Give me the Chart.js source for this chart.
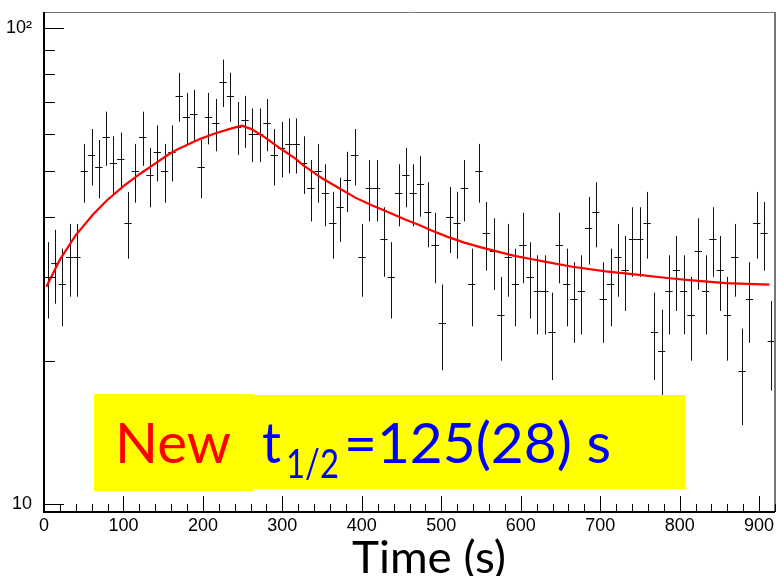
<!DOCTYPE html>
<html>
<head>
<meta charset="utf-8">
<script src="https://cdn.jsdelivr.net/npm/chart.js@4.4.0/dist/chart.umd.min.js"></script>
<style>
    html, body { margin: 0; padding: 0; background: #fff; }
    canvas { display: block; }
</style>
</head>
<body>
<canvas id="Chart" width="779" height="576"></canvas>
<script>
// decay histogram, 100 bins of 9.2 s
const binStart = 0;
const binWidth = 9.2;
const counts = [
    30, 32, 29, 33, 33, 50, 54, 51, 59, 52,
    53, 39, 50, 59, 49, 55, 50, 55, 72, 65,
    66, 51, 65, 63, 77, 72, 62, 64, 60, 60,
    63, 54, 56, 57, 57, 52, 46, 50, 45, 39,
    42, 48, 54, 33, 46, 46, 36, 30, 45, 49,
    45, 47, 41, 35, 24, 40, 39, 46, 29, 50,
    37, 34, 25, 33, 29, 35, 30, 28, 28, 23,
    35, 29, 27, 28, 38, 41, 27, 29, 33, 31,
    36, 36, 39, 23, 21, 28, 31, 28, 25, 34,
    28, 36, 31, 25, 33, 19, 27, 39, 37, 22
];

// fitted growth + decay curve
const fitTimes = [3, 20, 40, 62, 79, 100, 121, 137, 158, 169, 196, 215, 236, 249, 261, 278, 299, 316, 326, 351,
    372, 393, 414, 435, 456, 473, 487, 508, 529, 550, 571, 592, 613, 630, 665, 707, 749, 787, 816, 858, 913];
const fitValues = [28.6, 32.6, 36.7, 40.6, 43.4, 46.5, 49.4, 51.5, 54.4, 55.7, 58.4, 60.0, 61.5, 62.3, 61.3, 58.9, 55.6, 53.2, 51.5, 48.2,
    46.0, 43.9, 42.3, 40.9, 39.5, 38.5, 37.6, 36.4, 35.4, 34.6, 33.9, 33.2, 32.7, 32.3, 31.5, 30.8, 30.3, 29.8, 29.5, 29.1, 28.9];

const xTickLabels = [0, 100, 200, 300, 400, 500, 600, 700, 800, 900];
const xMinorStep = 20;
const yTickLabels = [10, 100];
const yMinorTicks = [20, 30, 40, 50, 60, 70, 80, 90];

let myChart = null;

// stretch or squeeze a run of text so it spans a given width
function drawText(ctx, text, x, baseline, width, font, color) {
    ctx.save();
    ctx.font = font;
    ctx.fillStyle = color;
    ctx.textBaseline = 'alphabetic';
    let w = ctx.measureText(text).width;
    ctx.translate(x, baseline);
    ctx.scale(width / w, 1);
    ctx.fillText(text, 0, 0);
    ctx.restore();
}

const whiteBackground = {
    id: 'whiteBackground',
    beforeDraw(chart) {
        let ctx = chart.ctx;
        ctx.save();
        ctx.fillStyle = '#fff';
        ctx.fillRect(0, 0, chart.width, chart.height);
        ctx.restore();
    }
};

// crosses: bin width horizontally, sqrt(N) vertically
const errorBars = {
    id: 'errorBars',
    beforeDatasetsDraw(chart) {
        let ctx = chart.ctx;
        let xs = chart.scales.x;
        let ys = chart.scales.y;
        ctx.save();
        ctx.strokeStyle = '#111';
        ctx.lineWidth = 1;
        ctx.beginPath();
        for (let i = 0; i < counts.length; i++) {
            let t = binStart + (i + 0.5) * binWidth;
            let err = Math.sqrt(counts[i]);
            let px = Math.round(xs.getPixelForValue(t)) + 0.5;
            let py = Math.round(ys.getPixelForValue(counts[i])) + 0.5;
            ctx.moveTo(xs.getPixelForValue(t - binWidth / 2), py);
            ctx.lineTo(xs.getPixelForValue(t + binWidth / 2), py);
            ctx.moveTo(px, ys.getPixelForValue(counts[i] + err));
            ctx.lineTo(px, ys.getPixelForValue(counts[i] - err));
        }
        ctx.stroke();
        ctx.restore();
    }
};

// frame, inward ticks, axis title and the half-life box
const frameAndText = {
    id: 'frameAndText',
    afterDraw(chart) {
        let ctx = chart.ctx;
        let a = chart.chartArea;
        let xs = chart.scales.x;
        let ys = chart.scales.y;
        ctx.save();

        ctx.strokeStyle = '#777';
        ctx.lineWidth = 1;
        ctx.beginPath();
        ctx.moveTo(a.left, a.top + 0.5);
        ctx.lineTo(a.right, a.top + 0.5);
        ctx.stroke();
        ctx.lineWidth = 2;
        ctx.beginPath();
        ctx.moveTo(a.right, a.top);
        ctx.lineTo(a.right, a.bottom);
        ctx.stroke();

        ctx.strokeStyle = '#000';
        ctx.lineWidth = 2;
        ctx.beginPath();
        ctx.moveTo(a.left, a.top);
        ctx.lineTo(a.left, a.bottom + 1);
        ctx.moveTo(a.left - 1, a.bottom);
        ctx.lineTo(a.right, a.bottom);
        ctx.stroke();

        ctx.lineWidth = 1;
        ctx.beginPath();
        for (let v = xs.min; v <= xs.max; v += xMinorStep) {
            let px = Math.round(xs.getPixelForValue(v)) + 0.5;
            let len = xTickLabels.includes(v) ? 16 : 8;
            ctx.moveTo(px, a.bottom);
            ctx.lineTo(px, a.bottom - len);
        }
        yTickLabels.concat(yMinorTicks).forEach(v => {
            let py = Math.round(ys.getPixelForValue(v)) + 0.5;
            let len = yTickLabels.includes(v) ? 20 : 11;
            ctx.moveTo(a.left, py);
            ctx.lineTo(a.left + len, py);
        });
        ctx.stroke();

        // axis title
        drawText(ctx, 'Time (s)', 352, 573, 154, '44px Lato', '#000');

        // annotation box
        ctx.fillStyle = '#ffff00';
        ctx.fillRect(94, 394, 160, 97);
        ctx.fillRect(254, 395, 431, 94);
        drawText(ctx, 'New', 115, 463, 116, '56px Lato', '#ff0000');
        drawText(ctx, 't', 262, 463, 19, '56px Lato', '#0000ff');
        drawText(ctx, '1/2', 286, 478, 53, '40px Lato', '#0000ff');
        drawText(ctx, '=125(28) s', 344, 463, 267, '56px Lato', '#0000ff');

        ctx.restore();
    }
};

function main() {
    let ctx = document.getElementById('Chart');
    let histPoints = counts.map((c, i) => ({ x: binStart + (i + 0.5) * binWidth, y: c }));
    let fitPoints = fitTimes.map((t, i) => ({ x: t, y: fitValues[i] }));

    myChart = new Chart(ctx, {
        type: 'scatter',
        data: {
            datasets: [{
                label: 'fit',
                data: fitPoints,
                showLine: true,
                borderColor: '#ff0000',
                borderWidth: 2.2,
                pointRadius: 0,
                tension: 0
            },
            {
                label: 'counts',
                data: histPoints,
                pointRadius: 0,
                showLine: false
            }]
        },
        options: {
            responsive: false,
            animation: false,
            layout: { padding: { top: 12, right: 4, left: 0, bottom: 0 } },
            plugins: {
                legend: { display: false },
                tooltip: { enabled: false }
            },
            scales: {
                x: {
                    type: 'linear',
                    min: 0,
                    max: 920,
                    grid: { display: false },
                    border: { display: false },
                    afterBuildTicks: scale => { scale.ticks = xTickLabels.map(v => ({ value: v })); },
                    afterFit: scale => {
                        scale.height = 64;
                        scale.paddingLeft = 0;
                        scale.paddingRight = 0;
                    },
                    ticks: {
                        autoSkip: false,
                        maxRotation: 0,
                        padding: -5,
                        color: '#000',
                        font: { family: 'Liberation Sans', size: 18 }
                    }
                },
                y: {
                    type: 'logarithmic',
                    min: 9.62,
                    max: 108,
                    grid: { display: false },
                    border: { display: false },
                    afterBuildTicks: scale => { scale.ticks = yTickLabels.map(v => ({ value: v })); },
                    afterFit: scale => {
                        scale.width = 44;
                        scale.paddingTop = 0;
                        scale.paddingBottom = 0;
                    },
                    ticks: {
                        autoSkip: false,
                        padding: 4,
                        color: '#000',
                        font: { family: 'Liberation Sans', size: 18 },
                        callback: v => v === 100 ? '10\u00b2' : '10'
                    }
                }
            }
        },
        plugins: [whiteBackground, errorBars, frameAndText]
    });
}

main();
</script>
</body>
</html>
